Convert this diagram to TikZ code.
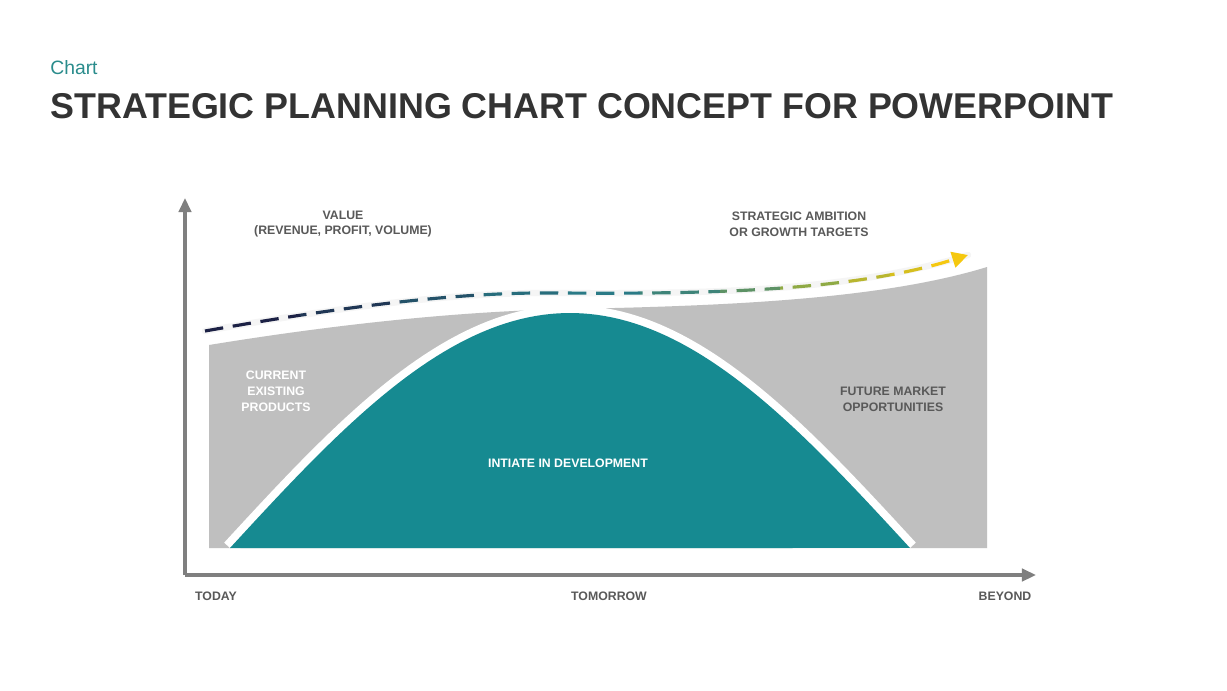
\documentclass[tikz,border=0pt]{standalone}
\usepackage{fontspec}
\setmainfont{Liberation Sans}
\usetikzlibrary{arrows.meta, positioning}

\definecolor{tealfill}{HTML}{168A91}
\definecolor{areagray}{HTML}{BFBFBF}
\definecolor{axisgray}{HTML}{7F7F7F}
\definecolor{labelgray}{HTML}{595959}
\definecolor{titlegray}{HTML}{333333}
\definecolor{chartteal}{HTML}{2A8C8C}
\definecolor{dnavy}{HTML}{1C2145}
\definecolor{dteal}{HTML}{2A7A86}
\definecolor{dolive}{HTML}{8FAA45}
\definecolor{dyellow}{HTML}{F5C80F}

\begin{document}
\begin{tikzpicture}[x=0.02cm, y=-0.02cm,
  lbl/.style={font=\fontsize{7}{9}\selectfont\bfseries, text=labelgray,
              align=center, inner sep=0pt},
  wlbl/.style={lbl, text=white},
  axisline/.style={draw=axisgray, line width=2.2pt,
                   -{Triangle[length=8pt, width=7pt]}},
  valline/.style={line width=1.8pt, dash pattern=on 10.5pt off 5.5pt,
                  -{Triangle[length=9pt, width=9pt]}}]
  \useasboundingbox[fill=white] (0,0) rectangle (1227,690);

  % heading
  \node[anchor=west, inner sep=0pt, font=\fontsize{11}{13}\selectfont,
        text=chartteal] (chart) at (50,68) {Chart};
  \node[anchor=west, inner sep=0pt, font=\fontsize{20.4}{24}\selectfont\bfseries,
        text=titlegray] (title) at (50,106)
        {STRATEGIC PLANNING CHART CONCEPT FOR POWERPOINT};

  % gray value area
  \fill[areagray] (209,548) -- (209,345)
    .. controls (350,322) and (470,311) .. (570,309)
    .. controls (720,306) and (880,300) .. (987,267)
    -- (987,548) -- cycle;

  % development curve
  \begin{scope}
    \clip (190,200) rectangle (1000,548);
    \draw[white, line width=9pt]
      plot[domain=230:910, samples=90] (\x, {548-235*sin((\x-230)/680*180)});
    \fill[tealfill]
      plot[domain=230:910, samples=90] (\x, {548-235*sin((\x-230)/680*180)}) -- cycle;
  \end{scope}

  % axes
  \coordinate (origin) at (185,575);
  \coordinate (ytop) at (185,198);
  \coordinate (xend) at (1036,575);
  \draw[axisline] (origin) -- (ytop);
  \draw[axisline] (origin) -- (xend);

  % value line, coloured strip by strip
  \coordinate (valstart) at (205,331);
  \coordinate (valend) at (968,255);
  \draw[black!4, line width=3.6pt, line cap=round]
    (valstart) .. controls (380,300) and (480,292) .. (560,293)
    .. controls (700,294) and (850,292) .. (valend);
  \foreach \xa/\xb/\col in {190/300/dnavy, 300/400/dnavy!75!dteal,
      400/480/dnavy!45!dteal, 480/560/dnavy!15!dteal, 560/640/dteal,
      640/720/dteal!80!dolive, 720/780/dteal!50!dolive, 780/840/dolive,
      840/890/dolive!60!dyellow, 890/930/dolive!30!dyellow, 930/1000/dyellow} {
    \begin{scope}
      \clip (\xa,200) rectangle (\xb,400);
      \draw[valline, \col]
        (valstart) .. controls (380,300) and (480,292) .. (560,293)
        .. controls (700,294) and (850,292) .. (valend);
    \end{scope}
  }

  % Labels
  \node[lbl] (value) at (343,224) {VALUE\\(REVENUE, PROFIT, VOLUME)};
  \node[lbl] (ambition) at (799,224) {STRATEGIC AMBITION\\OR GROWTH TARGETS};
  \node[wlbl] (current) at (276,391) {CURRENT\\EXISTING\\PRODUCTS};
  \node[lbl] (future) at (893,399) {FUTURE MARKET\\OPPORTUNITIES};
  \node[wlbl] (initiate) at (568,463) {INTIATE IN DEVELOPMENT};
  \node[lbl] (today) at (216,596) {TODAY};
  \node[lbl] (tomorrow) at (609,596) {TOMORROW};
  \node[lbl] (beyond) at (1005,596) {BEYOND};
\end{tikzpicture}
\end{document}
